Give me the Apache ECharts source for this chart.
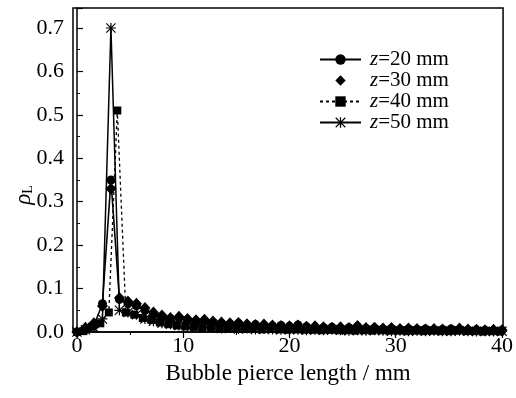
<!DOCTYPE html>
<html><head><meta charset="utf-8">
<script src="https://cdn.jsdelivr.net/npm/echarts@6/dist/echarts.min.js"></script>
<style>html,body{margin:0;padding:0;background:#fff}#c{width:516px;height:398px}</style>
</head><body><div id="c"></div>
<script>
// x positions (mm) of bins
var xA = [0.0,0.8,1.6,2.4,3.2,4.0,4.8,5.6,6.4,7.2,8.0,8.8,9.6,10.4,11.2,12.0,12.8,13.6,14.4,15.2,16.0,16.8,17.6,18.4,19.2,20.0,20.8,21.6,22.4,23.2,24.0,24.8,25.6,26.4,27.2,28.0,28.8,29.6,30.4,31.2,32.0,32.8,33.6,34.4,35.2,36.0,36.8,37.6,38.4,39.2,40.0];
var xB = [0.6,1.4,2.2,3.0,3.8,4.6,5.4,6.2,7.0,7.8,8.6,9.4,10.2,11.0,11.8,12.6,13.4,14.2,15.0,15.8,16.6,17.4,18.2,19.0,19.8,20.6,21.4,22.2,23.0,23.8,24.6,25.4,26.2,27.0,27.8,28.6,29.4,30.2,31.0,31.8,32.6,33.4,34.2,35.0,35.8,36.6,37.4,38.2,39.0,39.8];
var z20 = [0.0,0.005,0.015,0.065,0.35,0.075,0.065,0.06,0.05,0.04,0.035,0.03,0.032,0.028,0.025,0.026,0.022,0.02,0.018,0.02,0.016,0.017,0.015,0.014,0.015,0.013,0.016,0.012,0.011,0.01,0.011,0.009,0.01,0.012,0.008,0.009,0.007,0.008,0.006,0.007,0.006,0.007,0.005,0.006,0.007,0.005,0.004,0.005,0.004,0.003,0.004];
var z30 = [0.0,0.01,0.02,0.06,0.33,0.078,0.07,0.065,0.055,0.045,0.038,0.032,0.035,0.03,0.027,0.028,0.024,0.022,0.02,0.021,0.018,0.016,0.017,0.015,0.014,0.013,0.015,0.012,0.013,0.011,0.01,0.011,0.009,0.014,0.009,0.01,0.008,0.009,0.007,0.008,0.007,0.006,0.007,0.006,0.005,0.008,0.006,0.005,0.004,0.005,0.004];
var z40 = [0.002,0.012,0.02,0.045,0.51,0.045,0.04,0.032,0.028,0.022,0.018,0.015,0.013,0.012,0.01,0.011,0.009,0.008,0.009,0.007,0.008,0.006,0.007,0.006,0.005,0.006,0.005,0.005,0.004,0.005,0.004,0.004,0.003,0.004,0.003,0.004,0.003,0.003,0.002,0.003,0.002,0.003,0.002,0.002,0.003,0.002,0.002,0.001,0.002,0.001];
var z50 = [0.0,0.005,0.01,0.03,0.70,0.05,0.045,0.04,0.03,0.025,0.02,0.018,0.015,0.012,0.01,0.012,0.009,0.008,0.009,0.007,0.008,0.006,0.007,0.006,0.005,0.006,0.005,0.004,0.005,0.004,0.005,0.004,0.003,0.004,0.003,0.004,0.003,0.002,0.003,0.002,0.003,0.002,0.003,0.002,0.002,0.003,0.002,0.001,0.002,0.001,0.002];
var xTicks = [0,10,20,30,40];
var xMinorTicks = [5,15,25,35];
var seriesNames = ['{i|z}=20 mm','{i|z}=30 mm','{i|z}=40 mm','{i|z}=50 mm'];

function pairs(xs, ys){ var out=[]; for(var i=0;i<ys.length;i++) out.push([xs[i], ys[i]]); return out; }
var star = 'path://M4.4 0H5.6V10H4.4Z M0 4.4H10V5.6H0Z M0.8 0L10 9.2L9.2 10L0 0.8Z M9.2 0L10 0.8L0.8 10L0 9.2Z';
var font = '"Liberation Serif","DejaVu Serif",serif';
var chart = echarts.init(document.getElementById('c'));
chart.setOption({
  animation:false,
  backgroundColor:'#fff',
  grid:{left:73, right:8, top:8, bottom:66, show:true, borderColor:'#000', borderWidth:1.5, backgroundColor:'transparent'},
  legend:{
    orient:'vertical', left:314, top:44, itemWidth:41, itemHeight:13, itemGap:0,
    textStyle:{fontFamily:font, fontSize:21, color:'#000', padding:[0,0,0,4],
      rich:{i:{fontStyle:'italic', fontFamily:font, fontSize:21}}},
    data:seriesNames
  },
  graphic:[{
    type:'text', x:24, y:195, rotation:Math.PI/2,
    style:{text:'{r|ρ}{s|L}', align:'center', verticalAlign:'middle',
      rich:{r:{font:'italic 23px "Liberation Serif",serif', fill:'#000'}, s:{font:'14px "Liberation Serif",serif', fill:'#000', padding:[9,0,0,0]}}}
  }],
  xAxis:[{
    type:'value', min:-0.37, max:40.1,
    axisLine:{show:true, lineStyle:{color:'#000', width:1.5}},
    axisTick:{show:true, inside:false, length:6, customValues:xTicks, lineStyle:{color:'#000', width:1.2}},
    axisLabel:{customValues:xTicks, fontFamily:font, fontSize:22, color:'#000', margin:3},
    splitLine:{show:false},
    name:'Bubble pierce length / mm', nameLocation:'middle', nameGap:30,
    nameTextStyle:{fontFamily:font, fontSize:23, color:'#000'}
  },{
    type:'value', min:-0.37, max:40.1, position:'bottom', gridIndex:0,
    axisLine:{show:false},
    axisTick:{show:true, inside:false, length:3, customValues:xMinorTicks, lineStyle:{color:'#000', width:1}},
    axisLabel:{show:false}, splitLine:{show:false}
  }],
  yAxis:{
    type:'value', min:0, max:0.746, interval:0.1,
    axisLine:{show:true, lineStyle:{color:'#000', width:1.5}},
    axisTick:{show:true, inside:true, length:6, lineStyle:{color:'#000', width:1.2}},
    minorTick:{show:true, splitNumber:2, length:3, lineStyle:{color:'#000', width:1}},
    axisLabel:{fontFamily:font, fontSize:22, color:'#000', margin:9, showMaxLabel:false, formatter:function(v){return v.toFixed(1);}},
    splitLine:{show:false}
  },
  series:[
    {name:seriesNames[0], type:'line', data:pairs(xA,z20), symbol:'circle', symbolSize:9,
     itemStyle:{color:'#000'}, lineStyle:{color:'#000', width:1.6}},
    {name:seriesNames[1], type:'line', data:pairs(xA,z30), symbol:'diamond', symbolSize:[11,12],
     itemStyle:{color:'#000'}, lineStyle:{color:'#000', width:0, opacity:0}},
    {name:seriesNames[2], type:'line', data:pairs(xB,z40), symbol:'rect', symbolSize:8,
     itemStyle:{color:'#000'}, lineStyle:{color:'#000', width:1.3, type:[3,3]}},
    {name:seriesNames[3], type:'line', data:pairs(xA,z50), symbol:star, symbolSize:10,
     itemStyle:{color:'#000'}, lineStyle:{color:'#000', width:1.5}}
  ]
});
</script>
</body></html>
